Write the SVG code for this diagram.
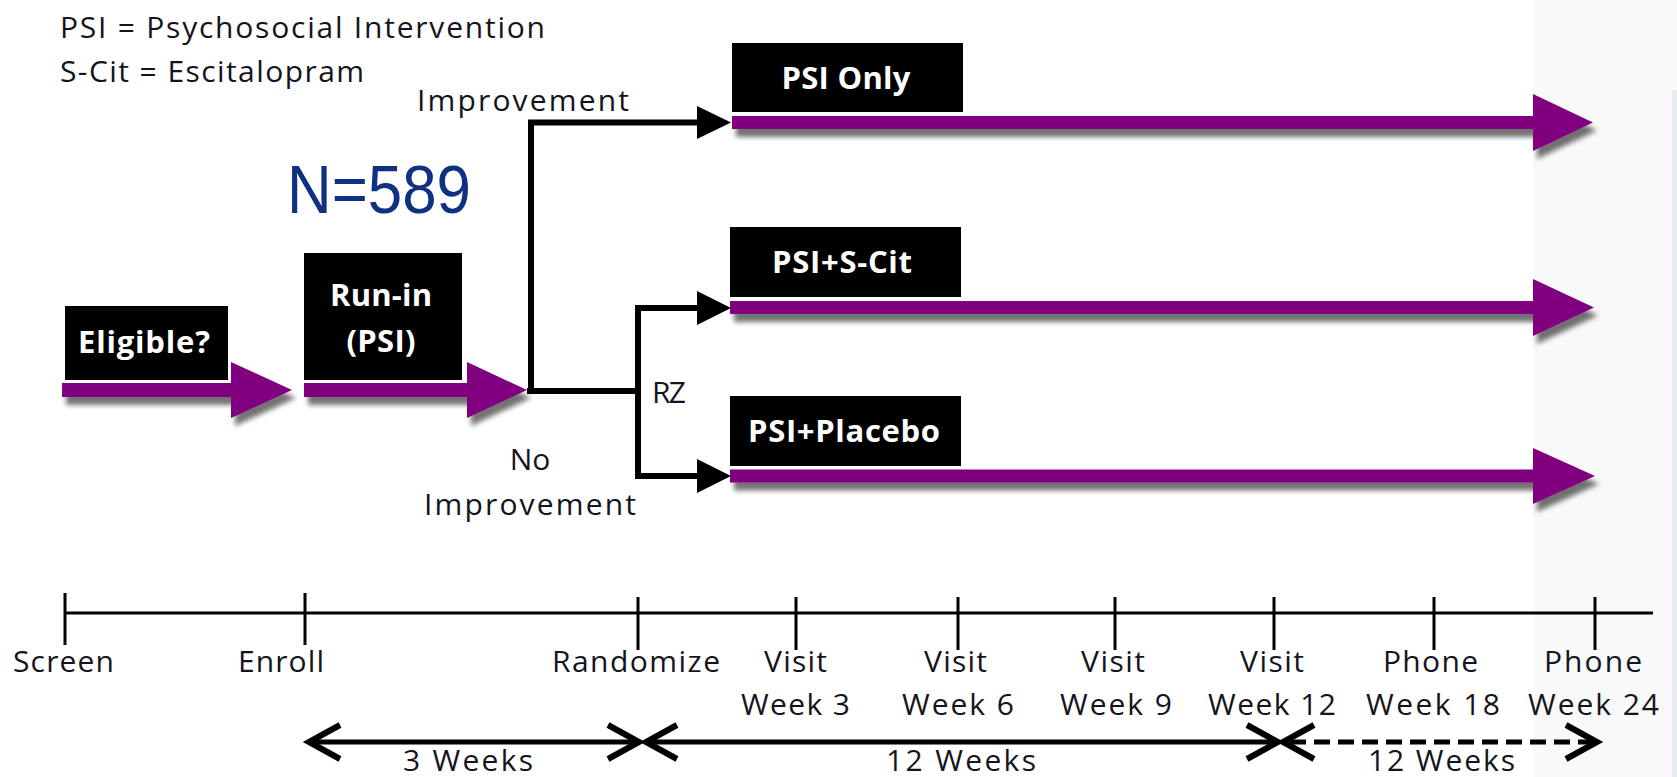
<svg xmlns="http://www.w3.org/2000/svg" width="1677" height="777" viewBox="0 0 1677 777">
  <style>
    .lbl { font-family: "Open Sans", "Liberation Sans", sans-serif; font-size: 30px; fill: #141420; }
    .box { fill: #000; }
    .boxtxt { font-family: "Open Sans", "Liberation Sans", sans-serif; font-weight: bold; font-size: 31px; fill: #fff; text-anchor: middle; }
    .purple { fill: #800080; }
    .conn { stroke: #000; stroke-width: 6; fill: none; }
    .axis { stroke: #000; stroke-width: 3; fill: none; }
    .span { stroke: #000; stroke-width: 5; fill: none; }
    .chev { stroke: #000; stroke-width: 6; fill: none; stroke-linejoin: miter; }
    .mid { text-anchor: middle; }
  </style>
  <defs>
    <filter id="shadow" x="-5%" y="-40%" width="115%" height="200%">
      <feDropShadow dx="4" dy="8" stdDeviation="2.5" flood-color="#000" flood-opacity="0.55"/>
    </filter>
  </defs>

  <!-- page background -->
  <rect x="0" y="0" width="1677" height="777" fill="#ffffff"/>
  <rect x="1533" y="0" width="144" height="777" fill="#f9f9f9"/>
  <rect x="1672" y="90" width="5" height="687" fill="#e6ebf1"/>

  <!-- legend -->
  <g id="legend">
    <text class="lbl" x="60" y="38" textLength="485">PSI = Psychosocial Intervention</text>
    <text class="lbl" x="60" y="82" textLength="304">S-Cit = Escitalopram</text>
  </g>

  <g id="sample-size">
    <text x="287" y="213" font-family="Liberation Sans, Arial, sans-serif" font-size="69" fill="#0f3182" textLength="184" lengthAdjust="spacingAndGlyphs">N=589</text>
  </g>

  <!-- black routing connectors -->
  <g id="connectors">
    <polyline class="conn" points="527,391 638,391"/>
    <polyline class="conn" points="699,122.5 531,122.5 531,394"/>
    <polyline class="conn" points="699,308 638,308 638,476 699,476"/>
    <polygon points="697,106 731,122.5 697,139" fill="#000"/>
    <polygon points="697,291 731,308 697,325" fill="#000"/>
    <polygon points="697,459 731,476 697,493" fill="#000"/>
    <text class="lbl" x="417" y="111" textLength="212">Improvement</text>
    <text class="lbl mid" x="530" y="470">No</text>
    <text class="lbl" x="424" y="515" textLength="212">Improvement</text>
    <text class="lbl" x="652" y="403" textLength="34">RZ</text>
  </g>

  <!-- screening step -->
  <g id="eligible">
    <rect class="box" x="65" y="306" width="163" height="74"/>
    <path class="purple" filter="url(#shadow)" d="M62,383 H231 V362 L292,390 L231,418 V397 H62 Z"/>
    <text class="boxtxt" x="144" y="353" textLength="132">Eligible?</text>
  </g>

  <!-- run-in step -->
  <g id="run-in">
    <rect class="box" x="304" y="253" width="158" height="127"/>
    <path class="purple" filter="url(#shadow)" d="M304,383 H467 V362 L527,390 L467,418 V397 H304 Z"/>
    <text class="boxtxt" x="381" y="306" textLength="102">Run-in</text>
    <text class="boxtxt" x="381" y="352" textLength="69">(PSI)</text>
  </g>

  <!-- treatment arms -->
  <g id="arm-psi-only">
    <rect class="box" x="732" y="43" width="231" height="69"/>
    <path class="purple" filter="url(#shadow)" d="M732,116 H1533 V94 L1593,122.5 L1533,151 V129 H732 Z"/>
    <text class="boxtxt" x="846" y="89" textLength="129">PSI Only</text>
  </g>

  <g id="arm-psi-scit">
    <rect class="box" x="730" y="227" width="231" height="70"/>
    <path class="purple" filter="url(#shadow)" d="M730,301 H1533 V279 L1594,307.5 L1533,336 V314 H730 Z"/>
    <text class="boxtxt" x="842" y="273" textLength="140">PSI+S-Cit</text>
  </g>

  <g id="arm-psi-placebo">
    <rect class="box" x="730" y="396" width="231" height="70"/>
    <path class="purple" filter="url(#shadow)" d="M730,469.5 H1533 V448 L1595,476 L1533,504 V482.5 H730 Z"/>
    <text class="boxtxt" x="844" y="442" textLength="192">PSI+Placebo</text>
  </g>

  <!-- timeline -->
  <g id="timeline">
    <line class="axis" x1="65" y1="613" x2="1653" y2="613"/>
    <line class="axis" x1="65" y1="593" x2="65" y2="645"/>
    <line class="axis" x1="305" y1="593" x2="305" y2="645"/>
    <line class="axis" x1="638" y1="597" x2="638" y2="650"/>
    <line class="axis" x1="796" y1="597" x2="796" y2="650"/>
    <line class="axis" x1="958" y1="597" x2="958" y2="650"/>
    <line class="axis" x1="1115" y1="597" x2="1115" y2="650"/>
    <line class="axis" x1="1274" y1="597" x2="1274" y2="650"/>
    <line class="axis" x1="1434" y1="597" x2="1434" y2="650"/>
    <line class="axis" x1="1595" y1="597" x2="1595" y2="650"/>

    <text class="lbl" x="13" y="672" textLength="101">Screen</text>
    <text class="lbl" x="238" y="672" textLength="86">Enroll</text>
    <text class="lbl" x="552" y="672" textLength="168">Randomize</text>
    <text class="lbl" x="764" y="672" textLength="63">Visit</text>
    <text class="lbl" x="741" y="715" textLength="109">Week 3</text>
    <text class="lbl" x="924" y="672" textLength="63">Visit</text>
    <text class="lbl" x="902" y="715" textLength="112">Week 6</text>
    <text class="lbl" x="1081" y="672" textLength="64">Visit</text>
    <text class="lbl" x="1060" y="715" textLength="112">Week 9</text>
    <text class="lbl" x="1240" y="672" textLength="64">Visit</text>
    <text class="lbl" x="1208" y="715" textLength="128">Week 12</text>
    <text class="lbl" x="1383" y="672" textLength="95">Phone</text>
    <text class="lbl" x="1366" y="715" textLength="134">Week 18</text>
    <text class="lbl" x="1544" y="672" textLength="98">Phone</text>
    <text class="lbl" x="1528" y="715" textLength="131">Week 24</text>
  </g>

  <!-- durations -->
  <g id="durations">
    <line class="span" x1="312" y1="742" x2="636" y2="742"/>
    <polyline class="chev" points="340,725 309,742 340,759"/>
    <polyline class="chev" points="608,725 639,742 608,759"/>
    <text class="lbl" x="403" y="771" textLength="130">3 Weeks</text>

    <line class="span" x1="649" y1="742" x2="1275" y2="742"/>
    <polyline class="chev" points="677,725 646,742 677,759"/>
    <polyline class="chev" points="1247,725 1278,742 1247,759"/>
    <text class="lbl" x="886" y="771" textLength="150">12 Weeks</text>

    <line class="span" x1="1290" y1="742" x2="1592" y2="742" stroke-dasharray="16 8"/>
    <polyline class="chev" points="1314,725 1283,742 1314,759"/>
    <polyline class="chev" points="1566,725 1597,742 1566,759"/>
    <text class="lbl" x="1368" y="771" textLength="147">12 Weeks</text>
  </g>
</svg>
